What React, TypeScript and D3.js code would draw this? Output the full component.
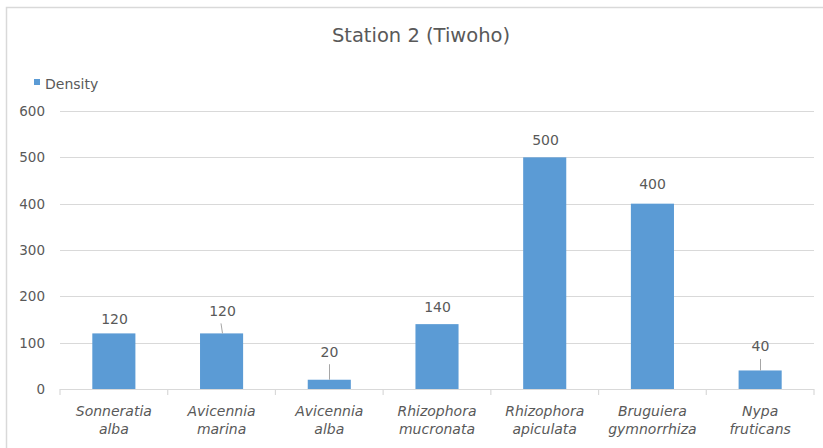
import React from "react";
import * as d3 from "d3";

const categories: string[][] = [
  ["Sonneratia", "alba"],
  ["Avicennia", "marina"],
  ["Avicennia", "alba"],
  ["Rhizophora", "mucronata"],
  ["Rhizophora", "apiculata"],
  ["Bruguiera", "gymnorrhiza"],
  ["Nypa", "fruticans"],
];
const densityValues: number[] = [120, 120, 20, 140, 500, 400, 40];
const yTicks: number[] = [0, 100, 200, 300, 400, 500, 600];
const seriesName = "Density";
const chartTitle = "Station 2 (Tiwoho)";
// gap (px) between bar top and label baseline; leader lines for moved labels
const labelGap: number[] = [9, 17.5, 23, 12.3, 12.7, 15, 19];
const hasLeader: boolean[] = [false, true, true, false, false, false, true];
const leaderTilt: number[] = [0, -1.5, 0, 0, 0, 0, 0];

const W = 823;
const H = 448;
const FONT = "'DejaVu Sans', Verdana, sans-serif";
const TEXT = "#595959";
const GRID = "#D9D9D9";
const BAR = "#5B9BD5";

export default function App() {
  const left = 60;
  const right = 814;
  const top = 111;
  const bottom = 389;

  const x = d3
    .scaleBand<number>()
    .domain(categories.map((_, i) => i))
    .range([left, right])
    .paddingInner(0.6)
    .paddingOuter(0.3);
  const y = d3.scaleLinear().domain([0, 600]).range([bottom, top]);
  const step = (right - left) / categories.length;

  return (
    <svg
      width={W}
      height={H}
      style={{ position: "absolute", left: 0, top: 0, display: "block" }}
    >
      <rect x={0} y={0} width={W} height={H} fill="#fff" />
      <rect
        x={6.5}
        y={7.5}
        width={W + 20}
        height={H + 20}
        fill="none"
        stroke="#D9D9D9"
        strokeWidth={1.5}
      />
      <text
        x={421}
        y={42}
        textAnchor="middle"
        fontFamily={FONT}
        fontSize={19.5}
        fill={TEXT}
      >
        {chartTitle}
      </text>
      {/* legend */}
      <rect x={34} y={79} width={6} height={6} fill={BAR} />
      <text x={45} y={89} fontFamily={FONT} fontSize={14} fill={TEXT}>
        {seriesName}
      </text>
      {/* gridlines & y labels */}
      {yTicks.map((t) => (
        <g key={t}>
          {t !== 0 && (
            <line
              x1={left}
              x2={right}
              y1={Math.round(y(t)) + 0.5}
              y2={Math.round(y(t)) + 0.5}
              stroke={GRID}
              strokeWidth={1}
            />
          )}
          <text
            x={45}
            y={y(t) + 5}
            textAnchor="end"
            fontFamily={FONT}
            fontSize={13.5}
            fill={TEXT}
          >
            {t}
          </text>
        </g>
      ))}
      {/* bars */}
      {densityValues.map((v, i) => (
        <rect
          key={i}
          x={x(i)!}
          y={y(v)}
          width={x.bandwidth()}
          height={y(0) - y(v)}
          fill={BAR}
        />
      ))}
      {/* x axis */}
      <line
        x1={left}
        x2={right}
        y1={bottom + 0.5}
        y2={bottom + 0.5}
        stroke={GRID}
        strokeWidth={1.2}
      />
      {d3.range(categories.length + 1).map((i) => (
        <line
          key={i}
          x1={left + i * step}
          x2={left + i * step}
          y1={bottom}
          y2={bottom + 6}
          stroke={GRID}
          strokeWidth={1.2}
        />
      ))}
      {/* category labels */}
      {categories.map((c, i) => (
        <text
          key={i}
          textAnchor="middle"
          fontFamily={FONT}
          fontSize={14}
          fontStyle="italic"
          fill={TEXT}
        >
          {c.map((line, j) => (
            <tspan key={j} x={x(i)! + x.bandwidth() / 2} y={416 + j * 18}>
              {line}
            </tspan>
          ))}
        </text>
      ))}
      {/* data labels */}
      {densityValues.map((v, i) => {
        const cx = Math.round(x(i)! + x.bandwidth() / 2) + 0.5;
        const baseline = y(v) - labelGap[i];
        return (
          <g key={i}>
            {hasLeader[i] && (
              <line
                x1={cx + leaderTilt[i]}
                x2={cx}
                y1={baseline + 7.5}
                y2={y(v)}
                stroke="#A6A6A6"
                strokeWidth={1}
              />
            )}
            <text
              x={cx}
              y={baseline}
              textAnchor="middle"
              fontFamily={FONT}
              fontSize={14}
              fill={TEXT}
            >
              {v}
            </text>
          </g>
        );
      })}
    </svg>
  );
}
